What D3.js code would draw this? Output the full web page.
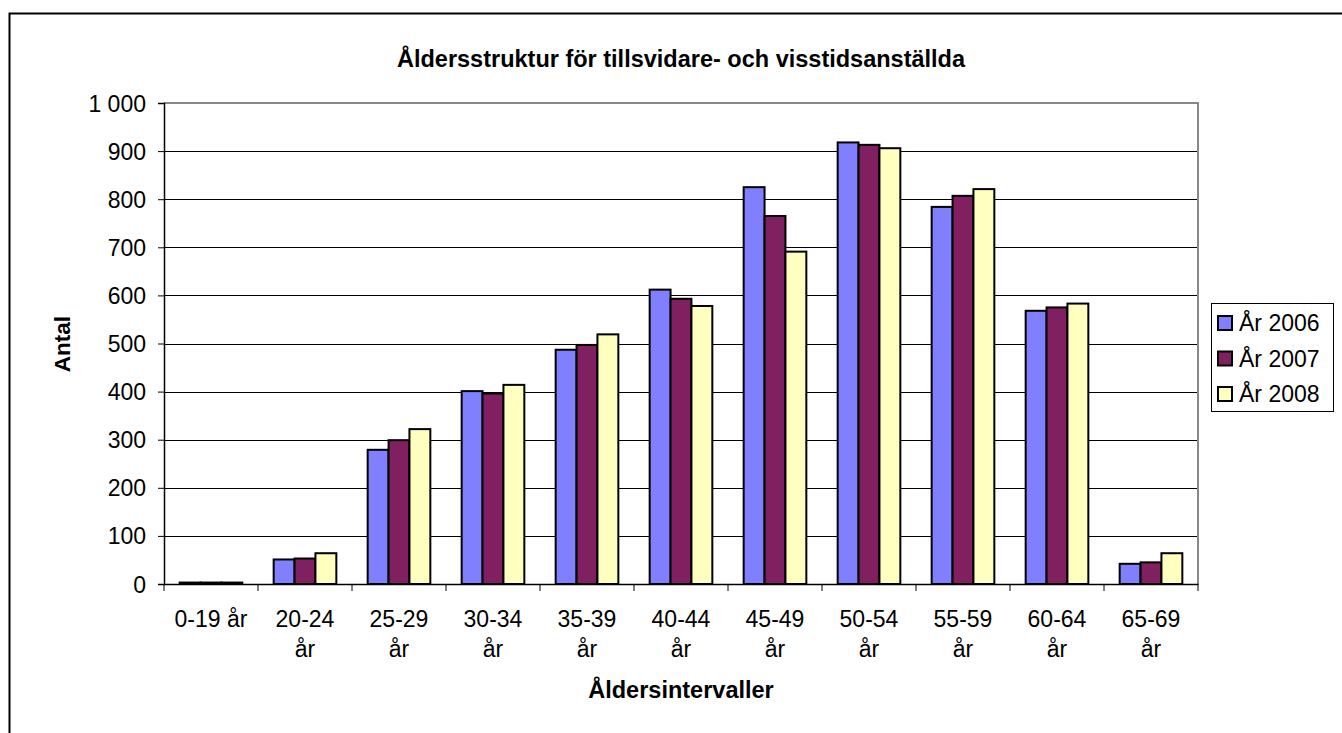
<!DOCTYPE html>
<html>
<head>
<meta charset="utf-8">
<script src="https://cdn.jsdelivr.net/npm/d3@7"></script>
<style>
  body { margin: 0; background: #fff; }
  text { font-family: "Liberation Sans", Arial, sans-serif; fill: #000; }
</style>
</head>
<body>
<svg id="chart"></svg>
<script>
const width = 1342;
const height = 733;

// data
const categories = ["0-19 år", "20-24 år", "25-29 år", "30-34 år", "35-39 år", "40-44 år",
    "45-49 år", "50-54 år", "55-59 år", "60-64 år", "65-69 år"];
const seriesNames = ["År 2006", "År 2007", "År 2008"];
const values2006 = [3, 51, 279, 401, 487, 612, 825, 918, 784, 568, 42];
const values2007 = [3, 53, 299, 396, 497, 593, 765, 913, 807, 575, 45];
const values2008 = [3, 64, 322, 414, 519, 578, 691, 906, 821, 583, 64];
const yTicks = [0, 100, 200, 300, 400, 500, 600, 700, 800, 900, 1000];
const colors = ["#8080FF", "#802060", "#FFFFC0"];

const allSeries = [values2006, values2007, values2008];

const svg = d3.select("#chart")
    .attr("width", width)
    .attr("height", height);

// outer chart border (runs off the right and bottom)
svg.append("path")
    .attr("d", "M9.5,740 V13.5 H1350")
    .attr("fill", "none")
    .attr("stroke", "#000")
    .attr("stroke-width", 2);

const plot = { left: 164, right: 1198, top: 103, bottom: 584 };

const x = d3.scaleBand()
    .domain(categories)
    .range([plot.left, plot.right]);

const xInner = d3.scaleBand()
    .domain(seriesNames)
    .range([0, x.bandwidth()])
    .paddingInner(0)
    .paddingOuter(0.75);

const y = d3.scaleLinear()
    .domain([0, 1000])
    .range([plot.bottom, plot.top]);

// gridlines
svg.append("g")
    .selectAll("line")
    .data(yTicks.filter(d => d > 0 && d < 1000))
    .enter().append("line")
    .attr("x1", plot.left).attr("x2", plot.right)
    .attr("y1", d => Math.round(y(d)) + 0.5).attr("y2", d => Math.round(y(d)) + 0.5)
    .attr("stroke", "#000")
    .attr("stroke-width", 1);

// top and right plot border
svg.append("path")
    .attr("d", `M${plot.left},${plot.top} H${plot.right} V${plot.bottom}`)
    .attr("fill", "none")
    .attr("stroke", "#888")
    .attr("stroke-width", 2);

// bars
const groups = svg.append("g")
    .selectAll("g")
    .data(categories)
    .enter().append("g")
    .attr("transform", d => `translate(${x(d)},0)`);

groups.selectAll("rect")
    .data((c, i) => allSeries.map((s, k) => ({ name: seriesNames[k], value: s[i], k: k })))
    .enter().append("rect")
    .attr("x", d => xInner(d.name))
    .attr("width", xInner.bandwidth())
    .attr("y", d => y(d.value))
    .attr("height", d => y(0) - y(d.value))
    .attr("fill", d => colors[d.k])
    .attr("stroke", "#000")
    .attr("stroke-width", 2);

// y axis
const yAxis = svg.append("g")
    .attr("transform", `translate(${plot.left},0)`)
    .call(d3.axisLeft(y)
        .tickValues(yTicks)
        .tickSize(6)
        .tickPadding(12)
        .tickFormat(d => d3.format(",")(d).replace(",", " ")));
yAxis.select(".domain").attr("stroke", "#000").attr("stroke-width", 1.5);
yAxis.selectAll(".tick line").attr("stroke", "#000");
yAxis.selectAll("text")
    .attr("font-family", null)
    .style("font-size", "23px")
    .attr("dy", "0.35em");

// x axis
const xAxis = svg.append("g")
    .attr("transform", `translate(0,${plot.bottom})`)
    .call(d3.axisBottom(x).tickSize(0).tickFormat(""));
xAxis.select(".domain").attr("stroke", "#000").attr("stroke-width", 1.5);

svg.append("g")
    .selectAll("line")
    .data(d3.range(categories.length + 1))
    .enter().append("line")
    .attr("x1", i => plot.left + i * x.step()).attr("x2", i => plot.left + i * x.step())
    .attr("y1", plot.bottom).attr("y2", plot.bottom + 7)
    .attr("stroke", "#000");

// wrapped category labels
const catLabels = svg.append("g")
    .selectAll("text")
    .data(categories)
    .enter().append("text")
    .attr("text-anchor", "middle")
    .style("font-size", "23px");

catLabels.each(function(d, i) {
    const t = d3.select(this);
    const cx = x(d) + x.bandwidth() / 2;
    const lines = i === 0 ? [d] : d.split(" ");
    lines.forEach((ln, j) => {
        t.append("tspan")
            .attr("x", cx)
            .attr("y", 627 + j * 30)
            .text(ln);
    });
});

// title
svg.append("text")
    .attr("x", (plot.left + plot.right) / 2)
    .attr("y", 67)
    .attr("text-anchor", "middle")
    .style("font-size", "23.5px")
    .style("font-weight", "bold")
    .text("Åldersstruktur för tillsvidare- och visstidsanställda");

// axis titles
svg.append("text")
    .attr("transform", "translate(70,344) rotate(-90)")
    .attr("text-anchor", "middle")
    .style("font-size", "22.5px")
    .style("font-weight", "bold")
    .text("Antal");

svg.append("text")
    .attr("x", (plot.left + plot.right) / 2)
    .attr("y", 698)
    .attr("text-anchor", "middle")
    .style("font-size", "23.5px")
    .style("font-weight", "bold")
    .text("Åldersintervaller");

// legend
const legend = svg.append("g");
legend.append("rect")
    .attr("x", 1211.5).attr("y", 303.5)
    .attr("width", 122).attr("height", 108)
    .attr("fill", "#fff")
    .attr("stroke", "#000")
    .attr("stroke-width", 1);

const items = legend.selectAll("g")
    .data(seriesNames)
    .enter().append("g")
    .attr("transform", (d, i) => `translate(1218,${323 + i * 35.5})`);

items.append("rect")
    .attr("x", 0).attr("y", -7)
    .attr("width", 14).attr("height", 14)
    .attr("fill", (d, i) => colors[i])
    .attr("stroke", "#000")
    .attr("stroke-width", 2);

items.append("text")
    .attr("x", 21)
    .attr("y", 8)
    .style("font-size", "23px")
    .text(d => d);
</script>
</body>
</html>
